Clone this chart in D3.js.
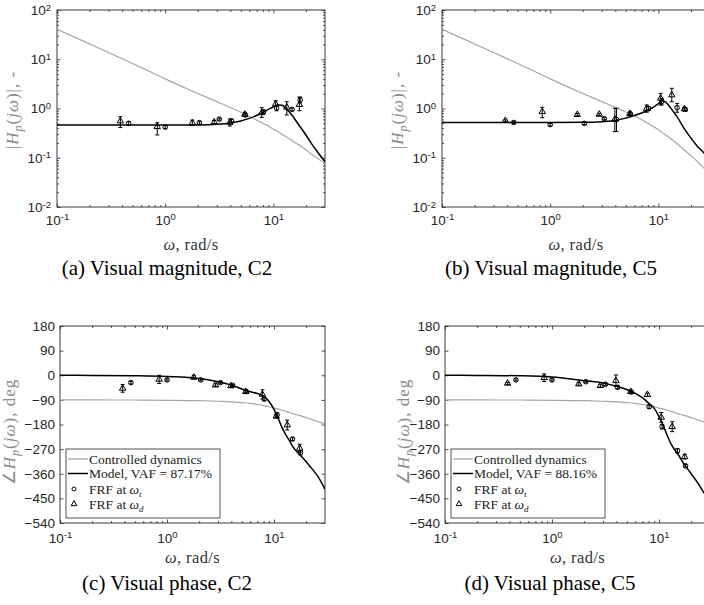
<!DOCTYPE html>
<html>
<head>
<meta charset="utf-8">
<script src="https://cdn.jsdelivr.net/npm/d3@7"></script>
<style>
  body { margin: 0; background: #fff; }
  svg { display: block; }
</style>
</head>
<body>
<svg id="fig" width="704" height="605"></svg>
<script>
// FRF frequencies, rad/s (circles = omega_t, triangles = omega_d)
const omegaT = [0.46, 1.0, 2.07, 3.16, 4.1, 5.5, 8.1, 10.7, 14.9, 17.7];
const omegaD = [0.385, 0.845, 1.78, 2.84, 3.96, 5.45, 7.8, 10.5, 13.3, 17.4];

// C2 magnitude FRF points with error bar ends
const magT_C2 = [0.50, 0.42, 0.515, 0.61, 0.565, 0.74, 0.86, 1.02, 0.96, 1.49];
const magT_C2_lo = [0.46, 0.39, 0.48, 0.58, 0.53, 0.69, 0.79, 0.90, 0.90, 1.30];
const magT_C2_hi = [0.54, 0.45, 0.55, 0.64, 0.60, 0.79, 0.93, 1.16, 1.02, 1.70];
const magD_C2 = [0.557, 0.427, 0.51, 0.53, 0.52, 0.76, 0.82, 1.23, 1.06, 1.2];
const magD_C2_lo = [0.41, 0.29, 0.45, 0.49, 0.44, 0.70, 0.66, 1.09, 0.74, 0.9];
const magD_C2_hi = [0.68, 0.515, 0.58, 0.57, 0.61, 0.82, 1.04, 1.44, 1.37, 1.7];

// C5 magnitude FRF points
const magT_C5 = [0.52, 0.47, 0.50, 0.62, 0.60, 0.78, 1.0, 1.37, 1.04, 0.96];
const magT_C5_lo = [0.49, 0.44, 0.47, 0.59, 0.34, 0.73, 0.90, 1.18, 0.84, 0.88];
const magT_C5_hi = [0.55, 0.50, 0.53, 0.65, 1.01, 0.84, 1.10, 1.60, 1.27, 1.05];
const magD_C5 = [0.565, 0.86, 0.75, 0.76, 0.60, 0.79, 1.0, 1.61, 1.88, 0.98];
const magD_C5_lo = [0.54, 0.65, 0.71, 0.72, 0.34, 0.74, 0.84, 1.18, 1.37, 0.90];
const magD_C5_hi = [0.59, 1.06, 0.79, 0.80, 1.01, 0.84, 1.18, 2.03, 2.57, 1.06];

// phase FRF points (deg) and half error bar (deg)
const phT_C2 = [-27, -17, -17, -27, -37, -60, -87, -145, -233, -283];
const phT_C2_err = [5, 4, 4, 4, 4, 5, 6, 8, 5, 8];
const phD_C2 = [-48, -15, -7.5, -36, -39, -60, -70, -150, -182, -267];
const phD_C2_err = [14, 15, 6, 5, 5, 5, 17, 6, 18, 15];

const phT_C5 = [-17, -17, -23.6, -33, -44, -61, -115, -188, -276, -331];
const phT_C5_err = [4, 4, 4, 4, 6, 5, 6, 8, 8, 5];
const phD_C5 = [-29.5, -9, -32, -38, -20, -60, -71, -154, -188, -298];
const phD_C5_err = [4, 14, 5, 5, 21, 5, 6, 18, 18, 8];

// curves read at these frequencies
const freqGrid = [0.1, 0.2, 0.5, 1, 2, 3, 4, 5, 6, 7, 8, 9, 10, 11, 12, 13, 14, 15, 17, 20, 23, 26, 30];
const ctrlMag_C2 = [40.5, 20.5, 8.2, 4.0, 2.02, 1.38, 1.05, 0.84, 0.69, 0.58, 0.50, 0.44, 0.38, 0.34, 0.30, 0.27, 0.245, 0.22, 0.185, 0.145, 0.115, 0.095, 0.076];
const ctrlMag_C5 = [40.5, 20.5, 8.2, 4.0, 2.02, 1.38, 1.05, 0.85, 0.71, 0.59, 0.50, 0.43, 0.37, 0.32, 0.28, 0.245, 0.215, 0.19, 0.15, 0.11, 0.083, 0.063, 0.048];
const ctrlPhase = [-90, -90.3, -90.5, -91.5, -93, -95, -97, -100, -103, -107, -111, -115, -120, -124, -128, -132, -136, -140, -146, -155, -163, -170, -178];
const modelMag_C2 = [0.46, 0.46, 0.46, 0.46, 0.465, 0.48, 0.51, 0.56, 0.63, 0.72, 0.83, 0.96, 1.08, 1.18, 1.17, 1.02, 0.86, 0.71, 0.48, 0.29, 0.18, 0.125, 0.083];
const modelMag_C5 = [0.52, 0.52, 0.52, 0.52, 0.525, 0.54, 0.57, 0.64, 0.72, 0.81, 0.92, 1.07, 1.25, 1.42, 1.28, 1.02, 0.82, 0.66, 0.42, 0.25, 0.17, 0.13, 0.09];
const modelPhase_C2 = [0, -0.5, -2, -5, -12, -24, -36, -50, -60, -67, -76, -96, -125, -160, -194, -220, -240, -261, -286, -316, -345, -372, -417];
const modelPhase_C5 = [0, -0.5, -2, -6, -20, -28, -40, -52, -66, -82, -102, -120, -150, -185, -222, -252, -272, -288, -322, -360, -393, -426, -460];

const xTicks = [0.1, 1, 10];
const magTicks = [0.01, 0.1, 1, 10, 100];
const phaseTicks = [180, 90, 0, -90, -180, -270, -360, -450, -540];
const legendLabels = ['Controlled dynamics', 'Model, VAF = ', 'FRF at ', 'FRF at '];
const vafValues = ['87.17%', '88.16%'];

const panels = [
  { kind: 'mag', left: 57, right: 325, top: 10, bottom: 207, model: modelMag_C2, ctrl: ctrlMag_C2,
    pt: [magT_C2, magT_C2_lo, magT_C2_hi], pd: [magD_C2, magD_C2_lo, magD_C2_hi],
    ylabelX: 18, ylabelY: 110, caption: '(a) Visual magnitude, C2', capX: 167, capY: 275 },
  { kind: 'mag', left: 442, right: 710, top: 10, bottom: 207, model: modelMag_C5, ctrl: ctrlMag_C5,
    pt: [magT_C5, magT_C5_lo, magT_C5_hi], pd: [magD_C5, magD_C5_lo, magD_C5_hi],
    ylabelX: 403, ylabelY: 110, caption: '(b) Visual magnitude, C5', capX: 551, capY: 275 },
  { kind: 'phase', left: 60, right: 325, top: 326, bottom: 523, model: modelPhase_C2, ctrl: ctrlPhase,
    pt: [phT_C2, phT_C2_err], pd: [phD_C2, phD_C2_err], vaf: vafValues[0],
    ylabelX: 15, ylabelY: 432, caption: '(c) Visual phase, C2', capX: 167, capY: 590 },
  { kind: 'phase', left: 445, right: 710, top: 326, bottom: 523, model: modelPhase_C5, ctrl: ctrlPhase,
    pt: [phT_C5, phT_C5_err], pd: [phD_C5, phD_C5_err], vaf: vafValues[1],
    ylabelX: 409, ylabelY: 432, caption: '(d) Visual phase, C5', capX: 550, capY: 590 }
];

const svg = d3.select('#fig');
svg.append('rect').attr('width', 704).attr('height', 605).attr('fill', '#fff');

const axisColor = '#262626';
const sans = '"Liberation Sans", Arial, sans-serif';
const serif = '"Liberation Serif", "Times New Roman", serif';

function supLabel(text, exp) {
  text.text(null);
  text.append('tspan').text('10');
  text.append('tspan').attr('dy', '-0.45em').attr('font-size', 9.5).text(exp);
}

function minorLog(lo, hi) {
  const out = [];
  for (let e = Math.floor(Math.log10(lo)); e <= Math.ceil(Math.log10(hi)); e++) {
    for (let k = 2; k <= 9; k++) {
      const v = k * Math.pow(10, e);
      if (v > lo && v < hi) out.push(v);
    }
  }
  return out;
}

panels.forEach((p, pi) => {
  const w = p.right - p.left;
  const h = p.bottom - p.top;
  const x = d3.scaleLog().domain([0.1, 30]).range([0, w]);
  const y = p.kind === 'mag'
    ? d3.scaleLog().domain([0.01, 100]).range([h, 0])
    : d3.scaleLinear().domain([-540, 180]).range([h, 0]);

  const g = svg.append('g').attr('transform', `translate(${p.left},${p.top})`);
  const clipId = 'clip' + pi;
  g.append('clipPath').attr('id', clipId)
    .append('rect').attr('width', w).attr('height', h);

  // axes with inside ticks on all sides
  const xMinor = minorLog(0.1, 30);
  const styleAxis = sel => {
    sel.select('.domain').remove();
    sel.selectAll('line').attr('stroke', axisColor).attr('stroke-width', 0.8);
    sel.selectAll('text').attr('fill', axisColor).attr('font-family', sans).attr('font-size', 13.5);
  };

  g.append('g').attr('transform', `translate(0,${h})`)
    .call(d3.axisBottom(x).tickValues(xMinor).tickSize(-2).tickFormat(''))
    .call(styleAxis);
  g.append('g')
    .call(d3.axisTop(x).tickValues(xMinor).tickSize(-2).tickFormat(''))
    .call(styleAxis);
  const xb = g.append('g').attr('transform', `translate(0,${h})`)
    .call(d3.axisBottom(x).tickValues(xTicks).tickSize(-3.5)
      .tickPadding(p.kind === 'mag' ? 8 : 10).tickFormat(''))
    .call(styleAxis);
  xb.selectAll('text').each(function (d) { supLabel(d3.select(this), Math.round(Math.log10(d))); });
  g.append('g')
    .call(d3.axisTop(x).tickValues(xTicks).tickSize(-3.5).tickFormat(''))
    .call(styleAxis);

  if (p.kind === 'mag') {
    const yMinor = minorLog(0.01, 100);
    g.append('g').call(d3.axisLeft(y).tickValues(yMinor).tickSize(-2).tickFormat('')).call(styleAxis);
    g.append('g').attr('transform', `translate(${w},0)`)
      .call(d3.axisRight(y).tickValues(yMinor).tickSize(-2).tickFormat('')).call(styleAxis);
    const yl = g.append('g')
      .call(d3.axisLeft(y).tickValues(magTicks).tickSize(-3.5).tickPadding(6).tickFormat(''))
      .call(styleAxis);
    yl.selectAll('text').each(function (d) { supLabel(d3.select(this), Math.round(Math.log10(d))); });
    g.append('g').attr('transform', `translate(${w},0)`)
      .call(d3.axisRight(y).tickValues(magTicks).tickSize(-3.5).tickFormat('')).call(styleAxis);
  } else {
    g.append('g')
      .call(d3.axisLeft(y).tickValues(phaseTicks).tickSize(-3.5).tickPadding(5))
      .call(styleAxis);
    g.append('g').attr('transform', `translate(${w},0)`)
      .call(d3.axisRight(y).tickValues(phaseTicks).tickSize(-3.5).tickFormat('')).call(styleAxis);
  }

  // box
  g.append('rect').attr('width', w).attr('height', h)
    .attr('fill', 'none').attr('stroke', axisColor).attr('stroke-width', 0.9);

  // curves
  const plot = g.append('g').attr('clip-path', `url(#${clipId})`);
  const line = d3.line().curve(d3.curveMonotoneX).x(d => x(d[0])).y(d => y(d[1]));
  plot.append('path').datum(freqGrid.map((f, i) => [f, p.ctrl[i]]))
    .attr('d', line).attr('fill', 'none').attr('stroke', '#a6a6a6').attr('stroke-width', 1.2);
  plot.append('path').datum(freqGrid.map((f, i) => [f, p.model[i]]))
    .attr('d', line).attr('fill', 'none').attr('stroke', '#000').attr('stroke-width', 1.5);

  // FRF points with error bars
  const drawSet = (freqs, vals, shape) => {
    freqs.forEach((f, i) => {
      const v = vals[0][i];
      let lo, hi;
      if (p.kind === 'mag') { lo = vals[1][i]; hi = vals[2][i]; }
      else { lo = v - vals[1][i]; hi = v + vals[1][i]; }
      const cx = x(f);
      const eb = plot.append('g').attr('stroke', '#000').attr('stroke-width', 1);
      eb.append('line').attr('x1', cx).attr('x2', cx).attr('y1', y(lo)).attr('y2', y(hi));
      eb.append('line').attr('x1', cx - 2).attr('x2', cx + 2).attr('y1', y(lo)).attr('y2', y(lo));
      eb.append('line').attr('x1', cx - 2).attr('x2', cx + 2).attr('y1', y(hi)).attr('y2', y(hi));
      if (shape === 'circle') {
        plot.append('circle').attr('cx', cx).attr('cy', y(v)).attr('r', 2.3)
          .attr('fill', 'none').attr('stroke', '#000').attr('stroke-width', 1);
      } else {
        plot.append('path').attr('d', d3.symbol(d3.symbolTriangle, 18)())
          .attr('transform', `translate(${cx},${y(v)})`)
          .attr('fill', 'none').attr('stroke', '#000').attr('stroke-width', 1);
      }
    });
  };
  drawSet(omegaT, p.pt, 'circle');
  drawSet(omegaD, p.pd, 'triangle');

  // axis labels
  const xl = svg.append('text')
    .attr('x', p.left + w / 2)
    .attr('y', p.bottom + (p.kind === 'mag' ? 43 : 40))
    .attr('text-anchor', 'middle').attr('font-family', serif).attr('font-size', 16.5).attr('fill', '#333')
    .attr('letter-spacing', 0.4);
  xl.append('tspan').attr('font-style', 'italic').text('ω');
  xl.append('tspan').text(', rad/s');

  const yt = svg.append('text')
    .attr('transform', `translate(${p.ylabelX},${p.ylabelY}) rotate(-90)`)
    .attr('text-anchor', 'middle').attr('font-family', serif).attr('font-size', 17).attr('fill', '#8a8a8a')
    .attr('letter-spacing', 1);
  if (p.kind === 'mag') {
    yt.append('tspan').text('|');
    yt.append('tspan').attr('font-style', 'italic').text('H');
    yt.append('tspan').attr('font-style', 'italic').attr('font-size', 12).attr('dy', 3.5).text('p');
    yt.append('tspan').attr('dy', -3.5).text('(');
    yt.append('tspan').attr('font-style', 'italic').text('jω');
    yt.append('tspan').text(')|, -');
  } else {
    yt.append('tspan').text('∠');
    yt.append('tspan').attr('font-style', 'italic').text('H');
    yt.append('tspan').attr('font-style', 'italic').attr('font-size', 12).attr('dy', 3.5).text('p');
    yt.append('tspan').attr('dy', -3.5).text('(');
    yt.append('tspan').attr('font-style', 'italic').text('jω');
    yt.append('tspan').text('), deg');
  }

  // legend on phase panels
  if (p.kind === 'phase') {
    const lg = svg.append('g').attr('transform', `translate(${p.left + 6},${p.top + 123})`);
    lg.append('rect').attr('width', 154).attr('height', 69)
      .attr('fill', '#fff').attr('stroke', axisColor).attr('stroke-width', 0.8);
    const rowY = [10, 24.5, 40, 55];
    lg.append('line').attr('x1', 2).attr('x2', 22).attr('y1', rowY[0]).attr('y2', rowY[0])
      .attr('stroke', '#a6a6a6').attr('stroke-width', 1.2);
    lg.append('line').attr('x1', 2).attr('x2', 22).attr('y1', rowY[1]).attr('y2', rowY[1])
      .attr('stroke', '#000').attr('stroke-width', 1.5);
    lg.append('circle').attr('cx', 8).attr('cy', rowY[2]).attr('r', 2)
      .attr('fill', 'none').attr('stroke', '#000').attr('stroke-width', 1);
    lg.append('path').attr('d', d3.symbol(d3.symbolTriangle, 14)())
      .attr('transform', `translate(8,${rowY[3]})`)
      .attr('fill', 'none').attr('stroke', '#000').attr('stroke-width', 1);
    const tx = (i) => lg.append('text').attr('x', 23).attr('y', rowY[i] + 4.5)
      .attr('font-family', serif).attr('font-size', 13.5).attr('fill', '#222');
    tx(0).text(legendLabels[0]);
    tx(1).text(legendLabels[1] + p.vaf);
    const t2 = tx(2); t2.append('tspan').text(legendLabels[2]);
    t2.append('tspan').attr('font-style', 'italic').text('ω');
    t2.append('tspan').attr('font-style', 'italic').attr('font-size', 9).attr('dy', 3).text('t');
    const t3 = tx(3); t3.append('tspan').text(legendLabels[3]);
    t3.append('tspan').attr('font-style', 'italic').text('ω');
    t3.append('tspan').attr('font-style', 'italic').attr('font-size', 9).attr('dy', 3).text('d');
  }

  // caption
  svg.append('text').attr('x', p.capX).attr('y', p.capY)
    .attr('text-anchor', 'middle').attr('font-family', serif).attr('font-size', 21).attr('fill', '#000')
    .text(p.caption);
});
</script>
</body>
</html>
